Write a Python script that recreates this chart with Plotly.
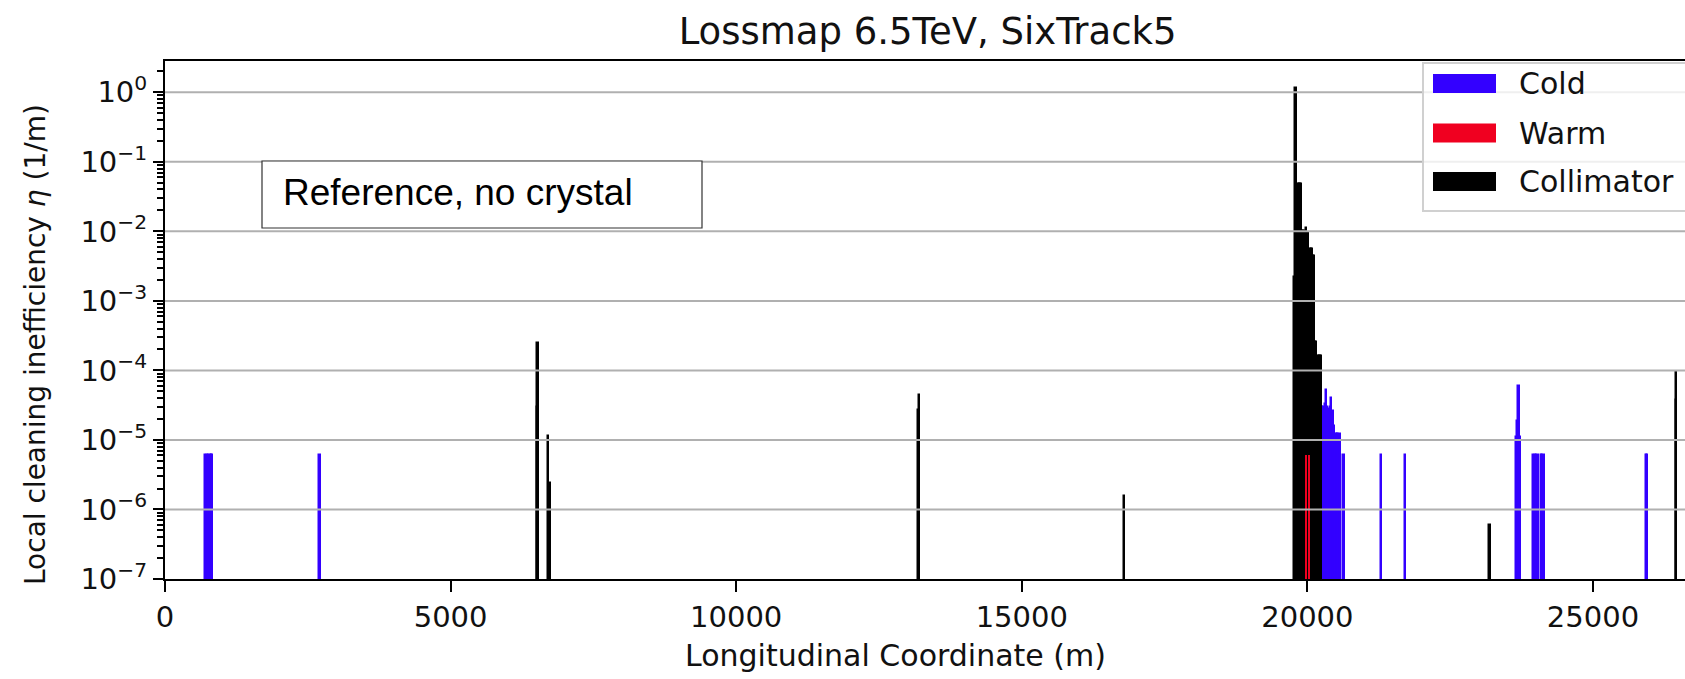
import plotly.graph_objects as go

# Loss map: local cleaning inefficiency per longitudinal position (m)
cold_s = [715, 740, 765, 790, 815, 835, 2713,
          20265, 20290, 20315, 20335, 20355, 20375, 20400, 20425, 20450,
          20475, 20500, 20525, 20550, 20575, 20640, 21300, 21720,
          23660, 23685, 23705, 23725, 23965, 23990, 24015, 24040,
          24095, 24120, 24145, 25935, 25960]
cold_eta = [6.1e-6, 6.1e-6, 6.1e-6, 6.1e-6, 6.1e-6, 6.1e-6, 6.1e-6,
            3.0e-5, 3.0e-5, 3.3e-5, 5.3e-5, 3.0e-5, 2.8e-5, 3.0e-5, 4.0e-5, 2.6e-5,
            1.6e-5, 1.2e-5, 1.2e-5, 1.2e-5, 1.2e-5, 6.1e-6, 6.1e-6, 6.1e-6,
            1.1e-5, 1.85e-5, 6.0e-5, 1.1e-5, 6.0e-6, 6.0e-6, 6.0e-6, 6.0e-6,
            6.0e-6, 6.0e-6, 6.0e-6, 6.1e-6, 6.1e-6]

warm_s = [19975, 20025]
warm_eta = [6.1e-6, 6.1e-6]

coll_s = [6515, 6530, 6711, 6745, 13200, 13210, 16795,
          19780, 19800, 19815, 19835, 19855, 19875, 19895, 19915, 19935, 19955,
          19988, 20005, 20025, 20045, 20065, 20085, 20105, 20125, 20145, 20165,
          20185, 20205, 20225, 20245, 23197, 26455, 26468]
coll_eta = [3.0e-5, 2.5e-4, 1.15e-5, 2.4e-6, 2.7e-5, 4.5e-5, 1.55e-6,
            2.2e-3, 1.14, 0.15, 0.048, 0.048, 0.048, 0.048, 0.010, 0.010, 0.010,
            0.011, 0.0095, 0.0095, 0.0055, 0.0055, 0.0055, 0.0044, 0.0044, 2.6e-4, 2.6e-4,
            1.6e-4, 1.6e-4, 1.6e-4, 1.6e-4, 6.0e-7, 3.8e-5, 9.4e-5]

x_ticks = [0, 5000, 10000, 15000, 20000, 25000]
y_exponents = [-7, -6, -5, -4, -3, -2, -1, 0]

COLD = "#3300ff"
WARM = "#f00020"
COLL = "#000000"
FONT = "DejaVu Sans"
X_MAX = 26611

fig = go.Figure()

for s, eta, col, name, bw, lw in [(cold_s, cold_eta, COLD, "Cold", 20, 1.5),
                                  (coll_s, coll_eta, COLL, "Collimator", 20, 1.5),
                                  (warm_s, warm_eta, WARM, "Warm", 8, 0)]:
    fig.add_trace(go.Bar(
        x=s, y=eta, width=bw, name=name, showlegend=False,
        marker=dict(color=col, line=dict(color=col, width=lw)),
    ))

# horizontal grid drawn over the bars
gx, gy = [], []
for k in y_exponents[1:]:
    gx += [0, X_MAX, None]
    gy += [10.0 ** k, 10.0 ** k, None]
fig.add_trace(go.Scatter(x=gx, y=gy, mode="lines", showlegend=False,
                         hoverinfo="skip",
                         line=dict(color="#b0b0b0", width=2)))

minor_vals = [m * 10.0 ** k for k in y_exponents for m in range(2, 10)]

fig.update_layout(
    width=1685, height=679,
    margin=dict(l=165, r=0, t=61, b=100),
    paper_bgcolor="white", plot_bgcolor="white",
    barmode="overlay", bargap=0,
    font=dict(family=FONT, size=29, color="#111111"),
    title=dict(text="Lossmap 6.5TeV, SixTrack5", x=0.5017, xref="paper",
               xanchor="center", y=1 - 31 / 679, yref="container",
               yanchor="middle", font=dict(family=FONT, size=37, color="#111111")),
    xaxis=dict(range=[0, X_MAX], tickvals=x_ticks,
               ticktext=[str(v) for v in x_ticks],
               ticks="outside", ticklen=11, tickwidth=2, tickcolor="black",
               showline=True, linecolor="black", linewidth=2, mirror=True,
               showgrid=False, zeroline=False),
    yaxis=dict(type="log", range=[-7, 0.45],
               tickvals=[10.0 ** k for k in y_exponents],
               ticktext=["10<sup>%s</sup>" % (str(k).replace("-", "\u2212")) for k in y_exponents],
               ticks="outside", ticklen=10, tickwidth=2, tickcolor="black",
               showline=True, linecolor="black", linewidth=2, mirror=False,
               showgrid=False, zeroline=False,
               minor=dict(tickvals=minor_vals, ticks="outside", ticklen=6,
                          tickwidth=1.5, tickcolor="black", showgrid=False)),
)

W = 1520.0
H = 518.0
def px(x):
    return (x - 165) / W
def py(y):
    return (579 - y) / H

anns = [
    dict(text="Longitudinal Coordinate (m)", x=px(895), y=py(655),
         xanchor="center", yanchor="middle", font=dict(size=30)),
    dict(text="Local cleaning inefficiency <i>\u03b7</i> (1/m)", x=px(35), y=py(345),
         xanchor="center", yanchor="middle", textangle=-90, font=dict(size=28)),
    dict(text="Reference, no crystal", x=px(281), y=py(192),
         xanchor="left", yanchor="middle",
         font=dict(family="Liberation Sans", size=37, color="black")),
]

shapes = [
    dict(type="rect", xref="paper", yref="paper", x0=px(262), x1=px(702),
         y0=py(228), y1=py(161), line=dict(color="#333333", width=1.2),
         fillcolor="white", layer="above"),
    dict(type="rect", xref="paper", yref="paper", x0=px(1423), x1=px(1700),
         y0=py(211), y1=py(63), line=dict(color="#d0d0d0", width=2),
         fillcolor="rgba(255,255,255,0.8)", layer="above"),
]

legend_items = [("Cold", COLD, 83.5), ("Warm", WARM, 133), ("Collimator", COLL, 181.5)]
for name, col, yc in legend_items:
    shapes.append(dict(type="rect", xref="paper", yref="paper",
                       x0=px(1433), x1=px(1496), y0=py(yc + 9.5), y1=py(yc - 9.5),
                       line=dict(width=0), fillcolor=col, layer="above"))
    anns.append(dict(text=name, x=px(1517), y=py(yc), xanchor="left",
                     yanchor="middle", font=dict(size=30)))

for a in anns:
    a.setdefault("xref", "paper")
    a.setdefault("yref", "paper")
    a.setdefault("showarrow", False)
fig.update_layout(annotations=anns, shapes=shapes)

fig.write_html("out.html", config={"displayModeBar": False})
